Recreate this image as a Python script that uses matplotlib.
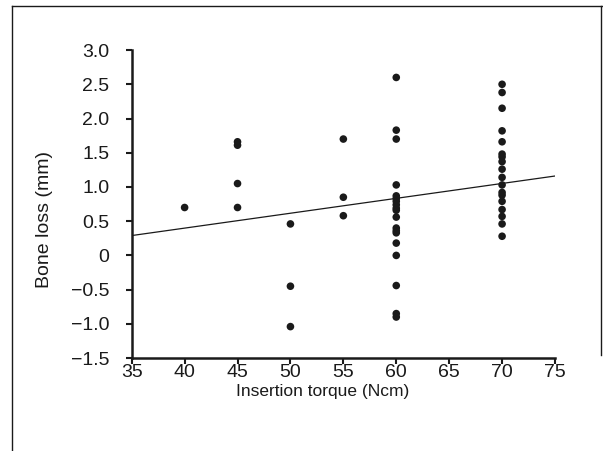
import matplotlib
matplotlib.use("Agg")
import matplotlib.pyplot as plt
from matplotlib.lines import Line2D

# insertion torque groups (Ncm) and bone loss values (mm)
torque_40 = [0.70]
torque_45 = [1.66, 1.61, 1.05, 0.70]
torque_50 = [0.46, -0.45, -1.04]
torque_55 = [1.70, 0.85, 0.58]
torque_60 = [2.60, 1.83, 1.70, 1.03, 0.87, 0.83, 0.79, 0.74, 0.69, 0.66,
             0.56, 0.40, 0.36, 0.33, 0.18, 0.00, -0.44, -0.85, -0.90]
torque_70 = [2.50, 2.38, 2.15, 1.82, 1.66, 1.48, 1.44, 1.37, 1.26, 1.14,
             1.03, 0.92, 0.88, 0.79, 0.67, 0.57, 0.46, 0.28]

groups = {40: torque_40, 45: torque_45, 50: torque_50,
          55: torque_55, 60: torque_60, 70: torque_70}

# regression line end points
fit_x = [35, 75]
fit_y = [0.29, 1.16]

x_ticks = [35, 40, 45, 50, 55, 60, 65, 70, 75]
y_ticks = [-1.5, -1.0, -0.5, 0, 0.5, 1.0, 1.5, 2.0, 2.5, 3.0]
y_tick_labels = ["\u22121.5", "\u22121.0", "\u22120.5", "0", "0.5",
                 "1.0", "1.5", "2.0", "2.5", "3.0"]

plt.rcParams["font.family"] = ["Liberation Sans", "DejaVu Sans"]

fig = plt.figure(figsize=(6.03, 4.51), dpi=100)
ax = fig.add_axes([0.2184, 0.206, 0.702, 0.683])

xs, ys = [], []
for x, vals in groups.items():
    xs += [x] * len(vals)
    ys += vals
ax.scatter(xs, ys, s=30, color="#1a1a1a", edgecolors="none", zorder=3, clip_on=False)
ax.plot(fit_x, fit_y, color="#1a1a1a", lw=0.9)

ax.set_xlim(35, 75)
ax.set_ylim(-1.5, 3.0)
ax.set_xticks(x_ticks)
ax.set_yticks(y_ticks)
ax.set_yticklabels(y_tick_labels)
ax.tick_params(axis="both", direction="out", length=4, width=1.5,
               labelsize=14, color="#1a1a1a", labelcolor="#1a1a1a")
ax.tick_params(axis="y", pad=12)
ax.tick_params(axis="x", pad=0)

for side in ["top", "right"]:
    ax.spines[side].set_visible(False)
for side in ["left", "bottom"]:
    ax.spines[side].set_linewidth(1.8)
    ax.spines[side].set_color("#1a1a1a")

ax.set_xlabel("Insertion torque (Ncm)", fontsize=12.5, color="#1a1a1a")
ax.xaxis.set_label_coords(0.45, -0.108)
ax.xaxis.label.set_va("center")
ax.set_ylabel("Bone loss (mm)", fontsize=14, color="#1a1a1a")
ax.yaxis.set_label_coords(-0.205, 0.45)
ax.yaxis.label.set_va("center")

# outer frame of the figure panel
fig.add_artist(Line2D([12 / 603, 1], [1 - 6 / 451, 1 - 6 / 451], color="#1a1a1a", lw=1))
fig.add_artist(Line2D([12 / 603, 12 / 603], [0, 1 - 6 / 451], color="#1a1a1a", lw=1))
fig.add_artist(Line2D([601 / 603, 601 / 603], [1 - 355 / 451, 1 - 6 / 451], color="#1a1a1a", lw=1))

fig.savefig("out.png", dpi=100)
plt.close(fig)
